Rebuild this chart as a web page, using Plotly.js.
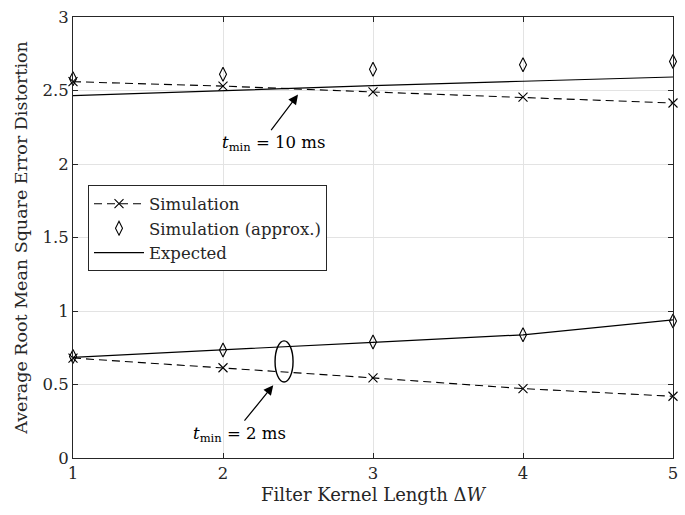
<!DOCTYPE html>
<html>
<head>
<meta charset="utf-8">
<script src="https://cdn.plot.ly/plotly-3.0.1.min.js"></script>
<style>html,body{margin:0;padding:0;background:#fff;}#chart{width:685px;height:515px;}</style>
</head>
<body>
<div id="chart"></div>
<script>
const kernelLength = [1, 2, 3, 4, 5];
const sim10 = [2.56, 2.53, 2.49, 2.455, 2.415];
const approx10 = [2.58, 2.61, 2.645, 2.675, 2.698];
const expected10 = [2.465, 2.50, 2.533, 2.563, 2.592];
const sim2 = [0.68, 0.614, 0.545, 0.472, 0.42];
const approx2 = [0.69, 0.734, 0.789, 0.839, 0.932];
const expected2 = [0.685, 0.734, 0.787, 0.838, 0.94];
const seriesNames = ['Simulation', 'Simulation (approx.)', 'Expected'];
const xTicks = [1, 2, 3, 4, 5];
const yTicks = [0, 0.5, 1, 1.5, 2, 2.5, 3];

const FONT = 'DejaVu Serif, serif';
const simStyle = {mode: 'lines+markers', line: {color: '#000', width: 1.1, dash: '8px,5px'},
  marker: {symbol: 'x-thin-open', size: 9, color: '#000', line: {color: '#000', width: 1.1}}, cliponaxis: false};
const apxStyle = {mode: 'markers',
  marker: {symbol: 'diamond-tall-open', size: 10, color: '#000', line: {color: '#000', width: 1.1}}, cliponaxis: false};
const expStyle = {mode: 'lines', line: {color: '#000', width: 1.2}, cliponaxis: false};

const traces = [
  Object.assign({x: kernelLength, y: expected10, name: seriesNames[2], legendgroup: 'e', showlegend: false, legendrank: 3}, expStyle),
  Object.assign({x: kernelLength, y: expected2, name: seriesNames[2], legendgroup: 'e', showlegend: true, legendrank: 3}, expStyle),
  Object.assign({x: kernelLength, y: sim10, name: seriesNames[0], legendgroup: 's', showlegend: true, legendrank: 1}, simStyle),
  Object.assign({x: kernelLength, y: sim2, name: seriesNames[0], legendgroup: 's', showlegend: false, legendrank: 1}, simStyle),
  Object.assign({x: kernelLength, y: approx10, name: seriesNames[1], legendgroup: 'a', showlegend: true, legendrank: 2}, apxStyle),
  Object.assign({x: kernelLength, y: approx2, name: seriesNames[1], legendgroup: 'a', showlegend: false, legendrank: 2}, apxStyle)
];

const axisCommon = {showline: true, linecolor: '#262626', linewidth: 1, mirror: 'ticks',
  ticks: 'inside', ticklen: 5, tickcolor: '#262626', showgrid: true, gridcolor: '#e3e3e3', gridwidth: 1,
  zeroline: false, tickfont: {family: FONT, size: 16.5, color: '#262626'}};

const layout = {
  width: 685, height: 515,
  margin: {l: 73, r: 12, t: 17, b: 57},
  paper_bgcolor: '#fff', plot_bgcolor: '#fff',
  font: {family: FONT, color: '#262626'},
  xaxis: Object.assign({}, axisCommon, {range: [1, 5], tickvals: xTicks, ticktext: xTicks.map(String),
    title: {text: 'Filter Kernel Length Δ<i>W</i>', font: {family: FONT, size: 18, color: '#262626'}, standoff: 6}}),
  yaxis: Object.assign({}, axisCommon, {range: [0, 3], tickvals: yTicks, ticktext: yTicks.map(String),
    title: {text: 'Average Root Mean Square Error Distortion', font: {family: FONT, size: 17.5, color: '#262626'}, standoff: 10}}),
  legend: {x: 0.025, y: 0.618, xanchor: 'left', yanchor: 'top', bgcolor: '#fff', bordercolor: '#262626', borderwidth: 1,
    font: {family: FONT, size: 16.5, color: '#262626'}, tracegroupgap: 0, itemwidth: 50, traceorder: 'normal'},
  shapes: [
    {type: 'circle', xref: 'x', yref: 'y', x0: 2.347, x1: 2.467, y0: 0.517, y1: 0.797, line: {color: '#000', width: 1.4}}
  ],
  annotations: [
    {x: 2.50, y: 2.472, xref: 'x', yref: 'y', text: '', showarrow: true, arrowhead: 2, arrowsize: 1.6, arrowwidth: 1.2,
      arrowcolor: '#000', ax: -28, ay: 37, standoff: 0},
    {x: 2.335, y: 0.495, xref: 'x', yref: 'y', text: '', showarrow: true, arrowhead: 2, arrowsize: 1.6, arrowwidth: 1.2,
      arrowcolor: '#000', ax: -30, ay: 37, standoff: 0},
    {x: 2.336, y: 2.137, xref: 'x', yref: 'y', showarrow: false, xanchor: 'center', yanchor: 'middle',
      text: '<i>t</i><sub>min</sub> = 10 ms', font: {family: FONT, size: 16.5, color: '#000'}},
    {x: 2.112, y: 0.161, xref: 'x', yref: 'y', showarrow: false, xanchor: 'center', yanchor: 'middle',
      text: '<i>t</i><sub>min</sub> = 2 ms', font: {family: FONT, size: 16.5, color: '#000'}}
  ]
};

Plotly.newPlot('chart', traces, layout, {displayModeBar: false, staticPlot: true});
</script>
</body>
</html>
